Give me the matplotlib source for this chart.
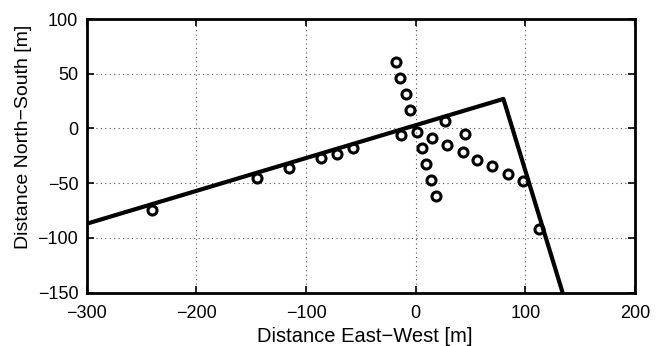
import numpy as np
import matplotlib.pyplot as plt

plt.rcParams['font.family'] = ['Liberation Sans', 'DejaVu Sans']

# fault trace (two straight segments)
line_x = [-300, 80, 134]
line_y = [-87, 27, -150]

# observed points
obs_x = [-240.2, -144.4, -115.8, -86.4, -71.8, -56.9,
         -18.2, -14.0, -9.1, -5.2, -13.7, 1.2, 5.5, 14.6, 9.7, 14.0, 18.8,
         26.4, 28.8, 42.9, 45.0, 56.2, 69.9, 84.2, 97.8, 112.2]
obs_y = [-74.4, -44.9, -36.4, -27.2, -23.0, -18.1,
         60.7, 46.1, 31.5, 16.9, -5.6, -3.2, -17.5, -9.0, -32.1, -47.0, -61.3,
         6.8, -15.4, -21.8, -5.3, -28.5, -34.6, -41.2, -47.9, -91.8]

xticks = [-300, -200, -100, 0, 100, 200]
yticks = [-150, -100, -50, 0, 50, 100]

fig = plt.figure(figsize=(6.62, 3.46), dpi=100)
ax = fig.add_axes([86.7/662, 1 - 292.7/346, (635 - 86.7)/662, (292.7 - 19)/346])

ax.plot(line_x, line_y, color='k', lw=3, solid_capstyle='butt', zorder=3)
ax.plot(obs_x, obs_y, 'o', mfc='none', mec='k', mew=2.2, ms=6.5, zorder=4)

ax.set_xlim(-300, 200)
ax.set_ylim(-150, 100)
ax.set_xticks(xticks)
ax.set_yticks(yticks)
ax.set_xticklabels([str(t).replace('-', '\u2212') for t in xticks])
ax.set_yticklabels([str(t).replace('-', '\u2212') for t in yticks])
ax.grid(True, linestyle=(0, (1, 3)), color='#555555', lw=0.8)
ax.tick_params(direction='in', top=True, right=True, length=5, width=1.2,
               labelsize=13)
ax.tick_params(axis='x', pad=9)
ax.tick_params(axis='y', pad=6)
for s in ax.spines.values():
    s.set_linewidth(2)

ax.set_xlabel('Distance East\u2212West [m]', fontsize=14.5)
ax.set_ylabel('Distance North\u2212South [m]', fontsize=14)
ax.xaxis.label.set_va('center')
ax.yaxis.label.set_va('center')
ax.xaxis.set_label_coords(0.508, -0.16)
ax.yaxis.set_label_coords(-0.116, 0.569)

fig.savefig('out.png', dpi=100)
